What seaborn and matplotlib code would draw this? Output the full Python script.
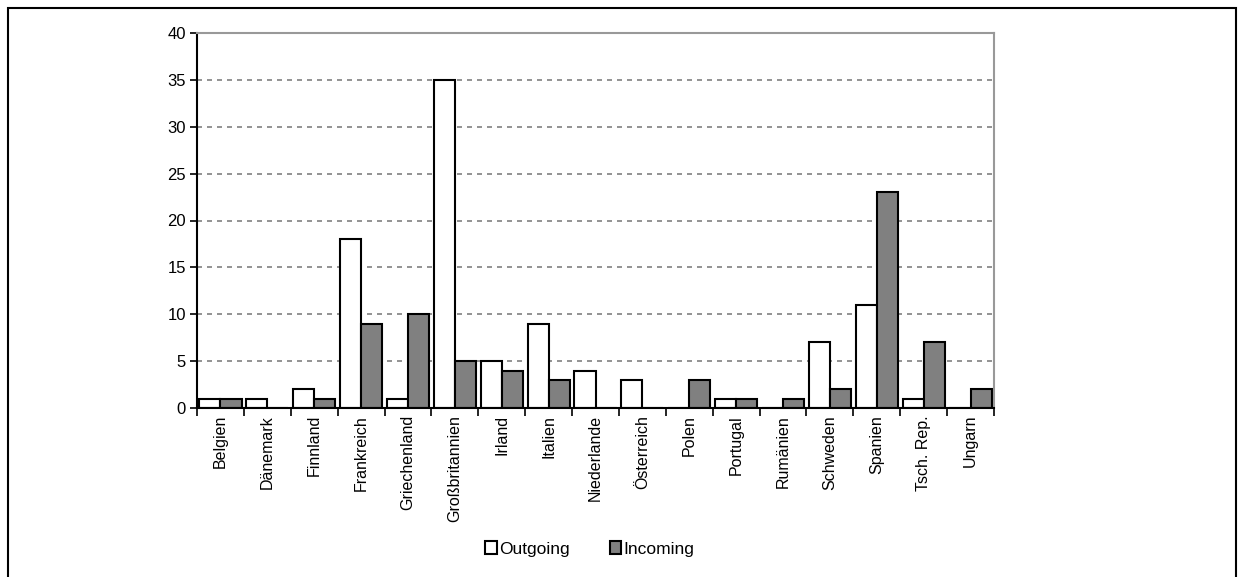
import matplotlib
matplotlib.use("Agg")
import matplotlib.pyplot as plt
import seaborn as sns
import pandas as pd
import numpy as np
from matplotlib.patches import Rectangle, Patch

countries = ["Belgien", "Dänemark", "Finnland", "Frankreich", "Griechenland",
             "Großbritannien", "Irland", "Italien", "Niederlande", "Österreich",
             "Polen", "Portugal", "Rumänien", "Schweden", "Spanien",
             "Tsch. Rep.", "Ungarn"]
outgoing = [1, 1, 2, 18, 1, 35, 5, 9, 4, 3, 0, 1, 0, 7, 11, 1, 0]
incoming = [1, 0, 1, 9, 10, 5, 4, 3, 0, 0, 3, 1, 1, 2, 23, 7, 2]
series_names = ["Outgoing", "Incoming"]
series_colors = ["#FFFFFF", "#808080"]
y_ticks = [0, 5, 10, 15, 20, 25, 30, 35, 40]

df = pd.DataFrame({
    "Land": countries * 2,
    "Anzahl": outgoing + incoming,
    "Richtung": [series_names[0]] * len(countries) + [series_names[1]] * len(countries),
})

sns.set_theme(style="white")
plt.rcParams["font.family"] = ["Liberation Sans", "DejaVu Sans"]
plt.rcParams["text.color"] = "black"
plt.rcParams["xtick.color"] = "black"
plt.rcParams["ytick.color"] = "black"
plt.rcParams["xtick.labelcolor"] = "black"
plt.rcParams["ytick.labelcolor"] = "black"

fig = plt.figure(figsize=(12.42, 5.77), dpi=100)
ax = fig.add_axes([197 / 1242, 1 - 408 / 577, (994 - 197) / 1242, (408 - 33) / 577])

sns.barplot(data=df, x="Land", y="Anzahl", hue="Richtung", order=countries,
            hue_order=series_names, palette=series_colors, width=0.9,
            edgecolor="black", linewidth=1.5, saturation=1, ax=ax, legend=False)

ax.set_xlim(-0.5, len(countries) - 0.5)
ax.set_ylim(0, 40)
ax.set_xlabel("")
ax.set_ylabel("")

# y axis
ax.set_yticks(y_ticks)
ax.set_yticklabels([str(v) for v in y_ticks], fontsize=12)
ax.tick_params(axis="y", direction="out", length=5, width=1.2, color="black",
               left=True, pad=3)

# category boundaries carry the ticks, labels sit at the centres
ax.set_xticks(np.arange(-0.5, len(countries), 1.0))
ax.set_xticklabels([])
ax.set_xticks(np.arange(len(countries)), minor=True)
ax.set_xticklabels(countries, minor=True, rotation=90, fontsize=11.5)
ax.tick_params(axis="x", which="major", direction="out", length=6, width=1.2,
               color="black", bottom=True)
ax.tick_params(axis="x", which="minor", length=0, pad=5)

# gridlines
ax.set_axisbelow(True)
for v in y_ticks[1:-1]:
    ax.axhline(v, color="#808080", linestyle=(0, (3, 3)), linewidth=1.2, zorder=0)

for side in ["left", "bottom"]:
    ax.spines[side].set_color("black")
    ax.spines[side].set_linewidth(1.5)
for side in ["top", "right"]:
    ax.spines[side].set_visible(True)
    ax.spines[side].set_color("#999999")
    ax.spines[side].set_linewidth(1.5)

# legend below the plot
handles = [Patch(facecolor=c, edgecolor="black", linewidth=1.5, label=n)
           for c, n in zip(series_colors, series_names)]
fig.legend(handles=handles, loc="center", bbox_to_anchor=(590 / 1242, 1 - 549 / 577),
           ncol=2, frameon=False, fontsize=12.5, handlelength=0.65, handleheight=0.8,
           handletextpad=0.15, columnspacing=2.3)

# outer chart frame
fig.patches.append(Rectangle((8 / 1242, -0.05), (1236 - 8) / 1242, 1.05 - 8 / 577,
                             transform=fig.transFigure, fill=False,
                             edgecolor="black", linewidth=1.5))

fig.savefig("out.png", dpi=100, facecolor="white")
